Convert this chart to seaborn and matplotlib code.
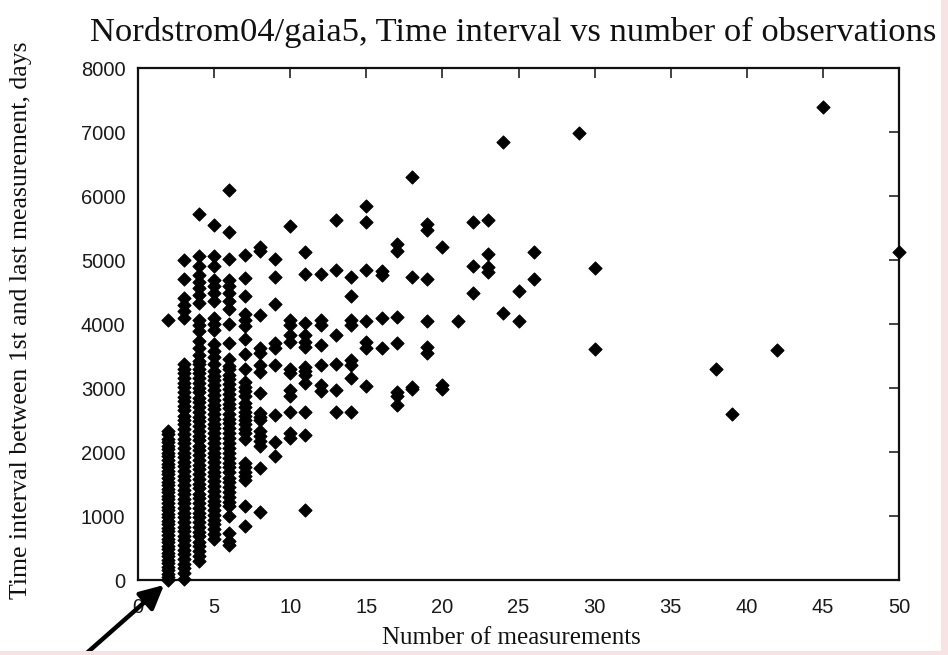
import matplotlib
matplotlib.use("Agg")
import matplotlib.pyplot as plt
import pandas as pd
import seaborn as sns
from matplotlib.patches import Rectangle

# ---- data: days between first and last measurement, per number of measurements ----
days_n2 = [0, 40, 90, 150, 200, 260, 310, 370, 420, 480, 530, 590, 640, 700, 760, 810,
           870, 920, 980, 1030, 1090, 1140, 1200, 1260, 1310, 1370, 1420, 1480, 1530,
           1590, 1650, 1700, 1760, 1810, 1870, 1930, 1980, 2040, 2100, 2150, 2210,
           2280, 2330, 4060]
days_n3 = [20, 110, 180, 250, 330, 400, 470, 540, 620, 690, 760, 830, 910, 980, 1050,
           1120, 1200, 1270, 1340, 1410, 1490, 1560, 1630, 1700, 1780, 1850, 1920,
           1990, 2070, 2140, 2210, 2280, 2360, 2430, 2500, 2570, 2650, 2720, 2790,
           2860, 2940, 3010, 3080, 3150, 3230, 3300, 3380, 4100, 4210, 4300, 4410,
           4700, 5000]
days_n4 = [300, 380, 450, 530, 600, 680, 750, 830, 900, 980, 1050, 1130, 1200, 1280,
           1350, 1430, 1500, 1580, 1650, 1730, 1800, 1880, 1950, 2030, 2100, 2180,
           2250, 2330, 2400, 2480, 2550, 2630, 2700, 2780, 2850, 2930, 3000, 3080,
           3150, 3230, 3300, 3380, 3420, 3520, 3630, 3730, 3890, 3990, 4070, 4330,
           4450, 4560, 4660, 4770, 4900, 5060, 5720]
days_n5 = [640, 720, 790, 870, 940, 1020, 1090, 1170, 1240, 1320, 1390, 1470, 1540,
           1620, 1690, 1770, 1840, 1920, 1990, 2070, 2140, 2220, 2290, 2370, 2440,
           2520, 2590, 2670, 2740, 2820, 2890, 2970, 3040, 3120, 3190, 3270, 3370,
           3480, 3580, 3685, 3900, 4000, 4100, 4360, 4490, 4590, 4690, 4900, 5060,
           5550]
days_n6 = [540, 610, 740, 1000, 1150, 1220, 1300, 1370, 1450, 1530, 1600, 1680, 1760,
           1830, 1910, 1990, 2060, 2140, 2220, 2290, 2370, 2450, 2520, 2600, 2680,
           2750, 2830, 2910, 2980, 3060, 3140, 3210, 3290, 3350, 3450, 3710, 4005,
           4230, 4360, 4490, 4590, 4690, 5020, 5445, 6100]
days_n7 = [840, 1150, 1570, 1620, 1690, 1760, 1830, 2210, 2290, 2360, 2430, 2500,
           2560, 2630, 2700, 2770, 2870, 2950, 3020, 3100, 3290, 3530, 3760, 3970,
           4070, 4150, 4435, 4720, 5080]
days_n8 = [1070, 1750, 2090, 2170, 2250, 2330, 2500, 2550, 2610, 2920, 3250, 3360,
           3540, 3630, 4140, 5140, 5200]
days_n9 = [1930, 2160, 2580, 3360, 3620, 3700, 4310, 4740, 5010]
days_n10 = [2220, 2300, 2630, 2870, 2970, 3230, 3290, 3720, 3830, 3980, 4060, 5530]
days_n11 = [1090, 2270, 2630, 3080, 3200, 3260, 3330, 3640, 3720, 3830, 4010, 4780,
            5130]

n_sparse = [12, 12, 12, 12, 12, 12, 12,
            13, 13, 13, 13, 13, 13,
            14, 14, 14, 14, 14, 14, 14, 14,
            15, 15, 15, 15, 15, 15, 15,
            16, 16, 16, 16,
            17, 17, 17, 17, 17, 17, 17,
            18, 18, 18, 18,
            19, 19, 19, 19, 19, 19,
            20, 20, 20, 21, 22, 22, 22, 23, 23, 23, 23,
            24, 24, 25, 25, 26, 26, 29, 30, 30,
            38, 39, 42, 45, 50]
days_sparse = [4780, 4070, 3990, 3670, 3360, 3050, 2950,
               5630, 4840, 3830, 3380, 2970, 2630,
               4740, 4440, 4060, 3990, 3440, 3360, 3150, 2630,
               5850, 5600, 4850, 4040, 3720, 3620, 3030,
               4830, 4770, 4090, 3620,
               5250, 5140, 4110, 3700, 2940, 2880, 2730,
               6300, 4740, 3020, 2980,
               5560, 5470, 4710, 4040, 3640, 3550,
               5200, 3040, 2990, 4040, 5590, 4900, 4490, 5620, 5100, 4890, 4810,
               6850, 4170, 4510, 4050, 5120, 4710, 6990, 4880, 3610,
               3300, 2590, 3590, 7390, 5130]

x_ticks = [0, 5, 10, 15, 20, 25, 30, 35, 40, 45, 50]
y_ticks = [0, 1000, 2000, 3000, 4000, 5000, 6000, 7000, 8000]

title = "Nordstrom04/gaia5, Time interval vs number of observations"
xlabel = "Number of measurements"
ylabel = "Time interval between 1st and last measurement, days"

# ---- build table ----
dense = {2: days_n2, 3: days_n3, 4: days_n4, 5: days_n5, 6: days_n6, 7: days_n7,
         8: days_n8, 9: days_n9, 10: days_n10, 11: days_n11}
rows = []
for n, vals in dense.items():
    rows += [(n, v) for v in vals]
rows += list(zip(n_sparse, days_sparse))
df = pd.DataFrame(rows, columns=["n", "days"])

# ---- figure ----
sns.set_theme(style="white")
plt.rcParams["font.family"] = ["Liberation Sans", "DejaVu Sans"]

fig = plt.figure(figsize=(9.48, 6.55), dpi=100, facecolor="white")
ax = fig.add_axes([138 / 948, 75 / 655, 761 / 948, 512 / 655])
ax.set_facecolor("white")

sns.scatterplot(data=df, x="n", y="days", ax=ax, marker="D", s=44,
                color="black", edgecolor="black", linewidth=0.8, legend=False,
                clip_on=False, zorder=3)

ax.set_xlim(0, 50)
ax.set_ylim(0, 8000)
ax.set_xticks(x_ticks)
ax.set_yticks(y_ticks)
ax.tick_params(axis="both", which="major", direction="in", length=7, width=1.2,
               color="#222222", top=True, right=True, labelsize=14.5,
               labelcolor="#1a1a1a")
ax.tick_params(axis="x", pad=13)
ax.tick_params(axis="y", pad=9)
for sp in ax.spines.values():
    sp.set_visible(True)
    sp.set_color("#111111")
    sp.set_linewidth(1.6)

serif = ["Liberation Serif", "DejaVu Serif"]
ax.set_xlabel(xlabel, family=serif, fontsize=18, color="#111111")
ax.xaxis.set_label_coords(0.491, -0.113)
ax.xaxis.label.set_va("center")
ax.set_ylabel(ylabel, family=serif, fontsize=18.5, color="#111111")
ax.yaxis.set_label_coords(-0.154, 0.508)
ax.yaxis.label.set_va("center")

ax.text(0.4928, 1.070, title, transform=ax.transAxes, ha="center", va="center",
        family=serif, fontsize=24.8, color="#111111")

# arrow pointing at the n=2, 0-day corner
ax.annotate("", xy=(164, 70), xycoords="figure pixels",
            xytext=(80, -4), textcoords="figure pixels",
            arrowprops=dict(arrowstyle="-|>,head_length=1.2,head_width=0.6",
                            color="black", lw=3.2, shrinkA=0, shrinkB=0),
            annotation_clip=False)

# faint pink page edges of the scan
fig.patches.append(Rectangle((941 / 948, 0), 7 / 948, 1, transform=fig.transFigure,
                             facecolor="#f7e3e3", edgecolor="none", zorder=0))
fig.patches.append(Rectangle((0, 0), 1, 4 / 655, transform=fig.transFigure,
                             facecolor="#f7e3e3", edgecolor="none", zorder=0))

fig.savefig("out.png", dpi=100, facecolor="white")
